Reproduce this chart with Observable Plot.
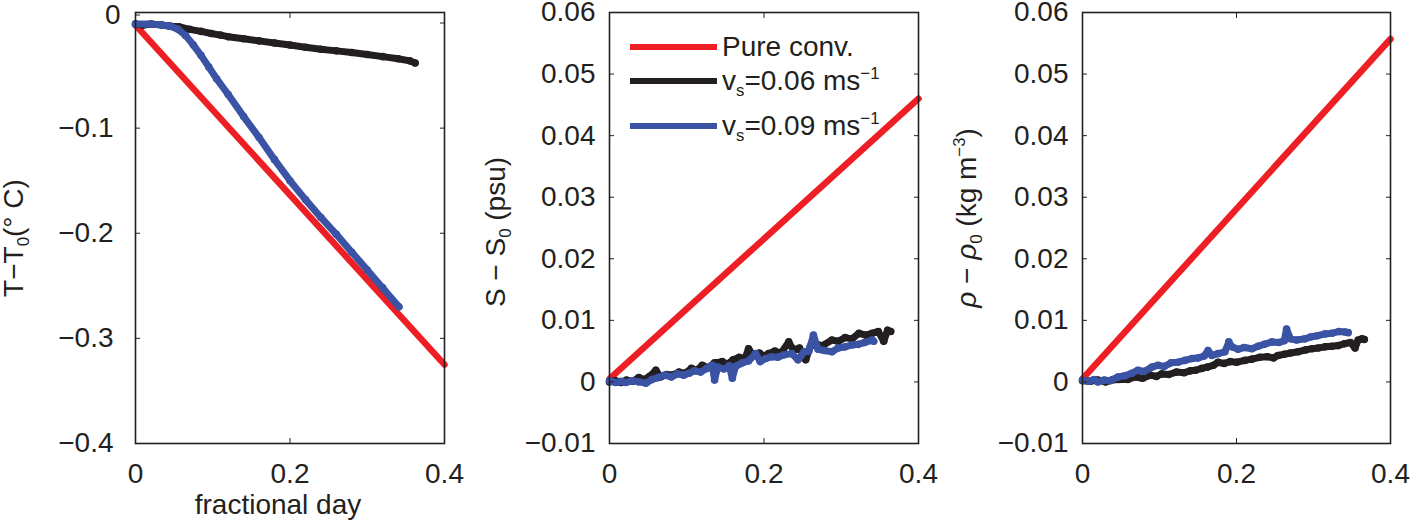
<!DOCTYPE html>
<html>
<head>
<meta charset="utf-8">
<script src="https://cdn.jsdelivr.net/npm/d3@7"></script>
<script src="https://cdn.jsdelivr.net/npm/@observablehq/plot@0.6"></script>
<style>
  html, body { margin: 0; padding: 0; background: #fff; }
  #wrap { position: relative; width: 1410px; height: 523px; overflow: hidden;
          font-family: "Liberation Sans", Arial, Helvetica, sans-serif; color: #231f20; }
  .panel { position: absolute; top: 0; }
  .lbl { position: absolute; white-space: nowrap; font-size: 28px; line-height: 28px; }
  .rot { transform: translate(-50%, -50%) rotate(-90deg); }
  .sub { font-size: 0.6em; position: relative; top: 0.35em; }
  .sup { font-size: 0.6em; position: relative; top: -0.65em; }
  .bar { position: absolute; height: 6px; width: 87px; }
</style>
</head>
<body>
<div id="wrap"></div>
<script>
// ---------- data ----------
const xTicks = [0, 0.2, 0.4];
const xTickLabels = ["0", "0.2", "0.4"];

const tYTicks = [-0.1, -0.2, -0.3, -0.4];
const tYTickLabels = ["−0.1", "−0.2", "−0.3", "−0.4"];
const tYTopTick = [0];
const tYTopTickLabel = ["0"];
const sYTicks = [-0.01, 0, 0.01, 0.02, 0.03, 0.04, 0.05, 0.06];
const sYTickLabels = ["−0.01", "0", "0.01", "0.02", "0.03", "0.04", "0.05", "0.06"];

const seriesNames = ["Pure conv.", "vs=0.06", "vs=0.09"];
const seriesColors = ["#ed1f24", "#231f20", "#3a53a4"];

// Panel 1: temperature anomaly
const tRedX = [0, 0.4];
const tRedY = [-0.002, -0.325];
const tBlackX = [0, 0.01, 0.02, 0.034, 0.045, 0.056, 0.07, 0.085, 0.098, 0.11, 0.12, 0.14, 0.16, 0.18, 0.2, 0.22, 0.24, 0.26, 0.28, 0.3, 0.32, 0.34, 0.355, 0.362];
const tBlackY = [-0.001, -0.002, -0.001, -0.002, -0.003, -0.0035, -0.006, -0.008, -0.010, -0.0115, -0.013, -0.015, -0.017, -0.019, -0.021, -0.023, -0.025, -0.0265, -0.028, -0.030, -0.032, -0.034, -0.036, -0.038];
const tBlueX = [0, 0.02, 0.035, 0.045, 0.055, 0.065, 0.075, 0.085, 0.095, 0.105, 0.12, 0.14, 0.16, 0.18, 0.2, 0.22, 0.24, 0.26, 0.28, 0.30, 0.32, 0.341];
const tBlueY = [-0.001, -0.001, -0.002, -0.003, -0.006, -0.012, -0.021, -0.031, -0.042, -0.053, -0.068, -0.089, -0.109, -0.130, -0.150, -0.168, -0.185, -0.201, -0.218, -0.235, -0.252, -0.270];

// Panel 2: salinity anomaly
const sRedX = [0, 0.4];
const sRedY = [0.0005, 0.046];
const sBlackX = [0, 0.008, 0.015, 0.022, 0.03, 0.038, 0.045, 0.052, 0.06, 0.066, 0.074, 0.081, 0.09, 0.098, 0.106, 0.113, 0.12, 0.128, 0.136, 0.146, 0.153, 0.16, 0.168, 0.175, 0.18, 0.186, 0.194, 0.2, 0.206, 0.214, 0.222, 0.232, 0.238, 0.246, 0.254, 0.26, 0.268, 0.276, 0.288, 0.296, 0.305, 0.314, 0.323, 0.332, 0.34, 0.348, 0.355, 0.36, 0.364];
const sBlackY = [0, 0.0002, -0.0001, 0.0003, 0.0001, 0.0007, 0.0004, 0.0009, 0.0019, 0.0008, 0.0012, 0.0011, 0.0016, 0.0014, 0.0022, 0.0019, 0.0027, 0.0023, 0.0031, 0.0033, 0.0029, 0.0036, 0.0040, 0.0037, 0.0054, 0.0043, 0.0047, 0.0042, 0.0046, 0.0050, 0.0047, 0.0065, 0.0052, 0.0055, 0.0036, 0.0058, 0.0061, 0.0059, 0.0068, 0.0066, 0.0072, 0.0070, 0.0079, 0.0076, 0.0079, 0.0082, 0.0066, 0.0084, 0.0082];
const sBlueX = [0, 0.008, 0.015, 0.021, 0.03, 0.038, 0.047, 0.055, 0.063, 0.072, 0.08, 0.088, 0.096, 0.103, 0.11, 0.118, 0.126, 0.133, 0.136, 0.14, 0.148, 0.155, 0.159, 0.163, 0.172, 0.18, 0.189, 0.195, 0.202, 0.21, 0.218, 0.226, 0.236, 0.244, 0.252, 0.258, 0.264, 0.27, 0.278, 0.288, 0.296, 0.305, 0.314, 0.322, 0.33, 0.34, 0.342];
const sBlueY = [0.0002, -0.0001, 0.0001, -0.0001, 0.0002, 0, -0.0002, 0.0004, 0.0007, 0.0011, 0.0008, 0.0013, 0.0011, 0.0014, 0.0018, 0.0016, 0.0022, 0.0027, 0.0003, 0.0024, 0.0021, 0.0026, 0.0006, 0.0025, 0.0031, 0.0034, 0.0046, 0.0033, 0.0038, 0.0041, 0.0040, 0.0044, 0.0046, 0.0036, 0.0049, 0.0050, 0.0076, 0.0053, 0.0051, 0.0049, 0.0055, 0.0057, 0.0060, 0.0061, 0.0064, 0.0068, 0.0066];

// Panel 3: density anomaly
const rRedX = [0, 0.4];
const rRedY = [0.0005, 0.0557];
const rBlackX = [0, 0.01, 0.02, 0.03, 0.038, 0.048, 0.059, 0.068, 0.078, 0.088, 0.096, 0.103, 0.112, 0.122, 0.132, 0.14, 0.147, 0.155, 0.162, 0.17, 0.176, 0.184, 0.192, 0.2, 0.211, 0.22, 0.23, 0.24, 0.248, 0.254, 0.262, 0.27, 0.28, 0.29, 0.298, 0.306, 0.315, 0.324, 0.332, 0.34, 0.348, 0.354, 0.358, 0.363, 0.366];
const rBlackY = [0.0002, 0.0001, 0.0003, 0, 0.0003, 0.0004, 0.0004, 0.0008, 0.0006, 0.0011, 0.0009, 0.0013, 0.0012, 0.0016, 0.0015, 0.0018, 0.0019, 0.0022, 0.0024, 0.0027, 0.0032, 0.0030, 0.0033, 0.0032, 0.0035, 0.0037, 0.0040, 0.0041, 0.0039, 0.0043, 0.0045, 0.0047, 0.0049, 0.0052, 0.0054, 0.0055, 0.0057, 0.0058, 0.0059, 0.0062, 0.0064, 0.0055, 0.0068, 0.0070, 0.0069];
const rBlueX = [0, 0.008, 0.015, 0.02, 0.028, 0.036, 0.046, 0.055, 0.064, 0.072, 0.08, 0.09, 0.098, 0.106, 0.115, 0.124, 0.133, 0.142, 0.15, 0.158, 0.163, 0.168, 0.176, 0.185, 0.19, 0.194, 0.202, 0.21, 0.22, 0.228, 0.236, 0.246, 0.255, 0.262, 0.265, 0.27, 0.278, 0.289, 0.296, 0.305, 0.315, 0.324, 0.333, 0.341, 0.345];
const rBlueY = [0.0003, 0.0001, 0.0004, 0, 0.0003, 0.0002, 0.0008, 0.0010, 0.0014, 0.0019, 0.0017, 0.0024, 0.0027, 0.0025, 0.0031, 0.0032, 0.0035, 0.0038, 0.0039, 0.0042, 0.0051, 0.0043, 0.0046, 0.0049, 0.0065, 0.0057, 0.0053, 0.0056, 0.0054, 0.0058, 0.0061, 0.0065, 0.0064, 0.0067, 0.0086, 0.0070, 0.0068, 0.0070, 0.0073, 0.0075, 0.0078, 0.0079, 0.0082, 0.0081, 0.0080];

// ---------- helpers ----------
const ink = "#231f20";
const FONT = "'Liberation Sans', Arial, Helvetica, sans-serif";
const zip = (xs, ys) => xs.map((x, i) => ({x, y: ys[i]}));

function panelPlot({left, width, marginLeft, marginRight, yDomain, yTicks, yTickLabels, yPad, extraMarks, series}) {
  const lines = series.flatMap(([xs, ys], k) => {
    const data = zip(xs, ys);
    const marks = [Plot.line(data, {x: "x", y: "y", stroke: seriesColors[k], strokeWidth: k === 0 ? 6.5 : 7, strokeLinecap: "round", strokeLinejoin: "round"})];
    if (k > 0) marks.push(Plot.dot(data, {x: "x", y: "y", r: 3.8, fill: seriesColors[k], stroke: "none"}));
    return marks;
  });
  const chart = Plot.plot({
    width, height: 523, marginLeft, marginRight, marginTop: 12, marginBottom: 80,
    x: {domain: [0, 0.4]},
    y: {domain: yDomain},
    style: {fontFamily: FONT, fontSize: "28px", color: ink, background: "transparent", overflow: "visible"},
    marks: [
      ...lines,
      Plot.frame({stroke: ink, strokeWidth: 1.6}),
      Plot.axisX(xTicks, {anchor: "bottom", tickSize: -5, tickPadding: 25, fontSize: 28, tickFormat: (d, i) => xTickLabels[i], label: null}),
      Plot.axisX(xTicks, {anchor: "top", tickSize: -5, fontSize: 28, tickFormat: () => "", label: null}),
      Plot.axisY(yTicks, {anchor: "left", tickSize: -5, tickPadding: yPad, fontSize: 28, tickFormat: (d, i) => yTickLabels[i], label: null}),
      Plot.axisY(yTicks, {anchor: "right", tickSize: -5, fontSize: 28, tickFormat: () => "", label: null}),
      ...(extraMarks || [])
    ]
  });
  const div = document.createElement("div");
  div.className = "panel";
  div.style.left = left + "px";
  div.appendChild(chart);
  return div;
}

const wrap = document.getElementById("wrap");

wrap.appendChild(panelPlot({
  left: 0, width: 470, marginLeft: 135, marginRight: 26,
  yDomain: [-0.4, 0.01], yTicks: tYTicks, yTickLabels: tYTickLabels, yPad: 27,
  extraMarks: [
    Plot.axisY(tYTopTick, {anchor: "left", tickSize: -5, tickPadding: 20, dy: -8, fontSize: 28, tickFormat: (d, i) => tYTopTickLabel[i], label: null}),
    Plot.axisY(tYTopTick, {anchor: "right", tickSize: -5, fontSize: 28, tickFormat: () => "", label: null})
  ],
  series: [[tRedX, tRedY], [tBlackX, tBlackY], [tBlueX, tBlueY]]
}));

wrap.appendChild(panelPlot({
  left: 480, width: 470, marginLeft: 129, marginRight: 32,
  yDomain: [-0.01, 0.06], yTicks: sYTicks, yTickLabels: sYTickLabels, yPad: 19,
  series: [[sRedX, sRedY], [sBlackX, sBlackY], [sBlueX, sBlueY]]
}));

wrap.appendChild(panelPlot({
  left: 960, width: 450, marginLeft: 122, marginRight: 20,
  yDomain: [-0.01, 0.06], yTicks: sYTicks, yTickLabels: sYTickLabels, yPad: 19,
  series: [[rRedX, rRedY], [rBlackX, rBlackY], [rBlueX, rBlueY]]
}));

// ---------- labels ----------
function addLabel(html, cx, cy, rotate) {
  const d = document.createElement("div");
  d.className = "lbl" + (rotate ? " rot" : "");
  d.innerHTML = html;
  d.style.left = cx + "px";
  d.style.top = cy + "px";
  if (!rotate) d.style.transform = "translate(-50%, -50%)";
  wrap.appendChild(d);
}
addLabel("T−T<span class='sub'>0</span>(° C)", 16, 238, true);
addLabel("S − S<span class='sub'>0</span> (psu)", 498, 232, true);
addLabel("<i>ρ</i> − <i>ρ</i><span class='sub'>0</span> (kg m<span class='sup'>−3</span>)", 969, 218, true);
addLabel("fractional day", 278, 505, false);

// ---------- legend (panel 2) ----------
const legendRows = [
  {html: "Pure conv.", cy: 47},
  {html: "v<span class='sub'>s</span>=0.06 ms<span class='sup'>−1</span>", cy: 81},
  {html: "v<span class='sub'>s</span>=0.09 ms<span class='sup'>−1</span>", cy: 126}
];
legendRows.forEach((r, k) => {
  const b = document.createElement("div");
  b.className = "bar";
  b.style.left = "630px";
  b.style.top = (r.cy - 3) + "px";
  b.style.background = seriesColors[k];
  wrap.appendChild(b);
  const t = document.createElement("div");
  t.className = "lbl";
  t.innerHTML = r.html;
  t.style.left = "722px";
  t.style.top = (r.cy - 14) + "px";
  wrap.appendChild(t);
});
</script>
</body>
</html>
